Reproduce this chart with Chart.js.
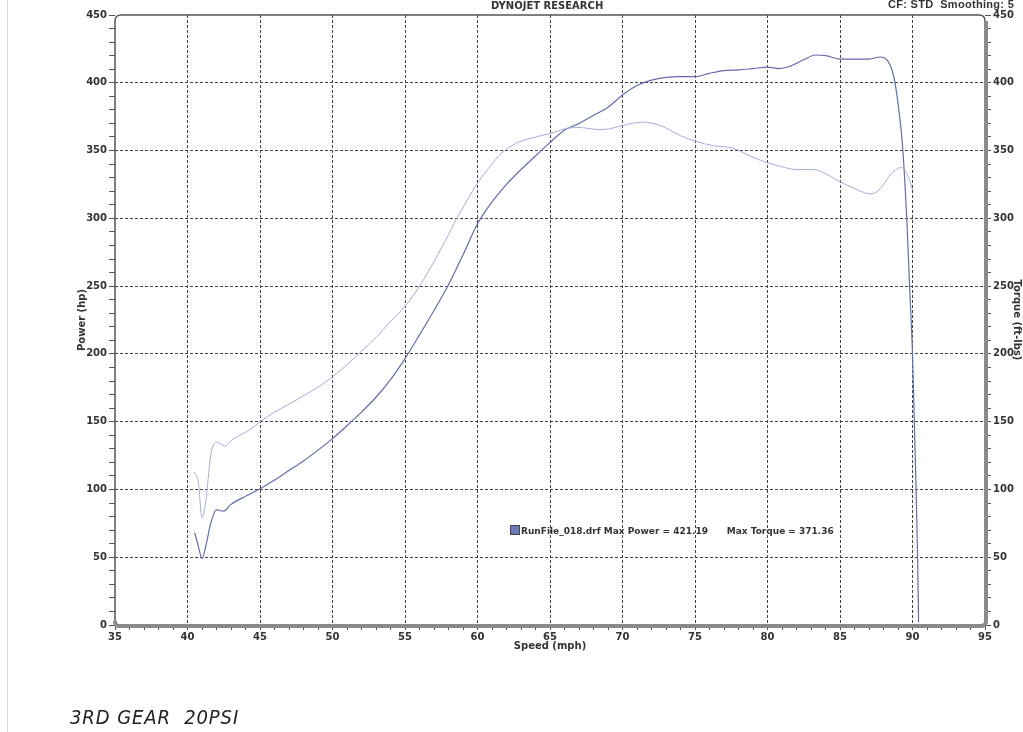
<!DOCTYPE html>
<html>
<head>
<meta charset="utf-8">
<script src="https://cdn.jsdelivr.net/npm/chart.js@4.4.1/dist/chart.umd.min.js"></script>
<style>
    body { margin: 0; background: #fff; }
    #wrap { position: relative; width: 1023px; height: 732px; overflow: hidden; background: #fff; }
    #chart { position: absolute; left: 0; top: 0; }
    .txt { position: absolute; font-family: "DejaVu Sans", sans-serif; font-weight: bold; color: #333; white-space: pre; }
    #title { left: 491px; top: 0px; font-size: 10px; }
    #cf { left: 888px; top: -2px; font-size: 11px; font-family: "Liberation Sans", sans-serif; letter-spacing: 0.3px; }
    #legend { left: 510px; top: 525px; font-size: 9px; }
    #legend span.sw { display: inline-block; width: 8px; height: 8px; background: #6f79bd; border: 1px solid #444; vertical-align: -1px; margin-right: 1px; }
    #note { left: 70px; top: 705px; font-family: "DejaVu Sans", sans-serif; font-weight: normal; font-style: italic; font-size: 20px; color: #222; letter-spacing: 1px; transform: scaleX(0.9); transform-origin: left; }
    #scanline { position: absolute; left: 7px; top: 0; width: 1px; height: 732px; background: #d8d8d8; }
</style>
</head>
<body>
<div id="wrap">
    <div id="scanline"></div>
    <canvas id="chart" width="1023" height="732"></canvas>
    <div class="txt" id="title">DYNOJET RESEARCH</div>
    <div class="txt" id="cf">CF: STD  Smoothing: 5</div>
    <div class="txt" id="legend"><span class="sw"></span>RunFile_018.drf Max Power = 421.19      Max Torque = 371.36</div>
    <div class="txt" id="note">3RD GEAR  20PSI</div>
</div>
<script>
// values
var speedLabels = [35, 40, 45, 50, 55, 60, 65, 70, 75, 80, 85, 90, 95];
var powerLabels = [0, 50, 100, 150, 200, 250, 300, 350, 400, 450];
var torqueLabels = [0, 50, 100, 150, 200, 250, 300, 350, 400, 450];

var powerSpeed = [40.5, 40.75, 41.0, 41.3, 41.6, 42.0, 42.5, 43.0, 44.0, 45.0, 46.0, 47.0, 48.0, 49.0, 50.0,
    51.0, 52.0, 53.0, 54.0, 55.0, 56.0, 57.0, 58.0, 59.0, 60.0, 61.0, 62.0, 63.0, 64.0, 65.0, 66.0, 67.0,
    68.0, 69.0, 70.0, 71.0, 72.0, 73.0, 74.0, 75.0, 76.0, 77.0, 78.0, 79.0, 80.0, 80.8, 81.5, 82.5, 83.3,
    84.0, 85.0, 86.0, 87.0, 87.8, 88.3, 88.7, 89.0, 89.3, 89.6, 89.8, 90.0, 90.25, 90.35, 90.42];
var powerHp = [68, 58, 49, 60, 75, 85, 84, 89, 95, 100.5, 107, 114, 121, 129, 137.5,
    147, 157, 168, 181, 196.5, 214, 232, 251, 273, 296, 312, 325, 336, 346, 356, 365, 370,
    376, 382, 391, 398, 402, 404, 404.5, 404.5, 407, 409, 409.5, 410.5, 411.5, 410.5, 412, 417, 420.5,
    420, 417.5, 417.5, 417.5, 419, 416, 405, 385, 355, 301, 250, 200, 100, 50, 2];

var torqueSpeed = [40.45, 40.75, 41.0, 41.25, 41.6, 42.0, 42.6, 43.0, 43.6, 44.3, 45.0, 46.0, 47.0, 48.0,
    49.0, 50.0, 51.0, 52.0, 53.0, 54.0, 55.0, 56.0, 57.0, 58.0, 58.57, 59.0, 60.0, 61.0, 61.55, 62.7, 64.0,
    65.0, 66.2, 67.0, 68.4, 69.1, 70.0, 71.4, 72.6, 74.0, 75.0, 76.3, 77.6, 79.0, 80.0, 81.0, 82.0, 83.2,
    84.0, 85.0, 86.0, 87.1, 87.8, 88.45, 89.25, 89.7, 90.0];
var torqueFtLbs = [113, 105, 79, 90, 125, 135, 132, 136, 140, 144, 150, 157, 163, 169,
    175.5, 183, 192, 202, 212, 224, 235, 250, 268, 288, 300, 308, 326, 340, 347, 355.5, 360,
    362.5, 366.5, 367, 365.5, 366, 368.5, 371, 368.5, 361, 357, 353.5, 351.8, 345, 341, 338, 336, 336,
    333, 327, 322, 318, 322, 332, 337.5, 331, 321];

function toPoints(xs, ys) {
    return xs.map(function(x, i) { return {x: x, y: ys[i]}; });
}

var gridDash = [3, 2];
var tickFont = {family: 'DejaVu Sans', size: 10, weight: 'bold'};
var titleFont = {family: 'DejaVu Sans', size: 10, weight: 'bold'};

// plot frame: thin rounded top/left edge, thick grey right/bottom edge
var framePlugin = {
    id: 'frame',
    afterDraw: function(chart) {
        var a = chart.chartArea, ctx = chart.ctx;
        ctx.save();
        ctx.strokeStyle = '#555';
        ctx.lineWidth = 1.5;
        ctx.beginPath();
        ctx.moveTo(a.left, a.bottom);
        ctx.lineTo(a.left, a.top + 6);
        ctx.quadraticCurveTo(a.left, a.top, a.left + 6, a.top);
        ctx.lineTo(a.right - 6, a.top);
        ctx.quadraticCurveTo(a.right, a.top, a.right, a.top + 6);
        ctx.stroke();
        ctx.strokeStyle = '#8a8a8a';
        ctx.lineWidth = 4;
        ctx.beginPath();
        ctx.moveTo(a.right + 1, a.top + 6);
        ctx.lineTo(a.right + 1, a.bottom - 4);
        ctx.quadraticCurveTo(a.right + 1, a.bottom + 1, a.right - 4, a.bottom + 1);
        ctx.lineTo(a.left + 4, a.bottom + 1);
        ctx.quadraticCurveTo(a.left, a.bottom + 1, a.left, a.bottom - 4);
        ctx.stroke();
        ctx.restore();
    }
};

var ctx = document.getElementById('chart').getContext('2d');
new Chart(ctx, {
    type: 'line',
    data: {
        datasets: [
            {
                label: 'Torque',
                data: toPoints(torqueSpeed, torqueFtLbs),
                yAxisID: 'y1',
                borderColor: '#a6acd8',
                borderWidth: 1,
                pointRadius: 0,
                cubicInterpolationMode: 'monotone'
            },
            {
                label: 'Power',
                data: toPoints(powerSpeed, powerHp),
                yAxisID: 'y',
                borderColor: '#646dab',
                borderWidth: 1.2,
                pointRadius: 0,
                cubicInterpolationMode: 'monotone'
            }
        ]
    },
    options: {
        responsive: false,
        animation: false,
        layout: {padding: {top: 15, left: 72, right: 0, bottom: 76}},
        plugins: {legend: {display: false}, tooltip: {enabled: false}, title: {display: false}},
        scales: {
            x: {
                type: 'linear', min: 35, max: 95,
                afterFit: function(s) { s.height = 31; },
                ticks: {
                    stepSize: 1, autoSkip: false, maxRotation: 0, padding: 1,
                    color: '#333', font: tickFont,
                    callback: function(v) { return speedLabels.indexOf(v) >= 0 ? String(v) : ''; }
                },
                grid: {
                    color: function(c) {
                        var v = c.tick && c.tick.value;
                        return (v % 5 === 0 && v !== 35 && v !== 95) ? '#444' : 'rgba(0,0,0,0)';
                    },
                    lineWidth: 1,
                    tickColor: '#555',
                    tickLength: 5
                },
                border: {display: false, dash: gridDash},
                title: {display: true, text: 'Speed (mph)', color: '#333', font: titleFont, padding: {top: 0, bottom: 4}}
            },
            y: {
                position: 'left', min: 0, max: 450,
                afterFit: function(s) { s.width = 43; },
                ticks: {
                    stepSize: 10, autoSkip: false, padding: 2,
                    color: '#333', font: tickFont,
                    callback: function(v) { return powerLabels.indexOf(v) >= 0 ? String(v) : ''; }
                },
                grid: {
                    color: function(c) {
                        var v = c.tick && c.tick.value;
                        return (v % 50 === 0 && v !== 0 && v !== 450) ? '#444' : 'rgba(0,0,0,0)';
                    },
                    lineWidth: 1,
                    tickColor: '#555',
                    tickLength: 6
                },
                border: {display: false, dash: gridDash},
                title: {display: true, text: 'Power (hp)', color: '#333', font: titleFont, padding: {top: 4, bottom: 0}}
            },
            y1: {
                position: 'right', min: 0, max: 450,
                afterFit: function(s) { s.width = 38; },
                ticks: {
                    stepSize: 10, autoSkip: false, padding: 2,
                    color: '#333', font: tickFont,
                    callback: function(v) { return torqueLabels.indexOf(v) >= 0 ? String(v) : ''; }
                },
                grid: {drawOnChartArea: false, tickColor: '#555', tickLength: 6},
                border: {display: false},
                title: {display: true, text: 'Torque (ft-lbs)', color: '#333', font: titleFont, padding: {top: 0, bottom: 2}}
            }
        }
    },
    plugins: [framePlugin]
});
</script>
</body>
</html>
